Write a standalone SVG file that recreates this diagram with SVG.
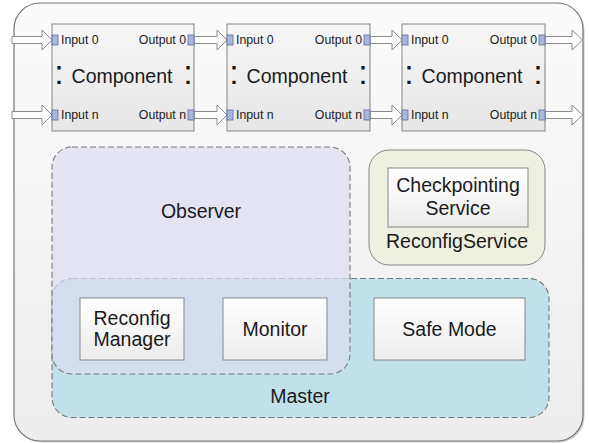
<svg xmlns="http://www.w3.org/2000/svg" width="589" height="443" viewBox="0 0 589 443">
<defs>
<linearGradient id="gCont" x1="0" y1="0" x2="0" y2="1"><stop offset="0" stop-color="#fbfbfb"/><stop offset="1" stop-color="#ededed"/></linearGradient>
<linearGradient id="gComp" x1="0" y1="0" x2="0" y2="1"><stop offset="0" stop-color="#f7f7f7"/><stop offset="1" stop-color="#e6e6e6"/></linearGradient>
<linearGradient id="gBox" x1="0" y1="0" x2="0" y2="1"><stop offset="0" stop-color="#ffffff"/><stop offset="1" stop-color="#ececec"/></linearGradient>
<style>
text{font-family:"Liberation Sans",Arial,sans-serif;fill:#1a1a1a}
.big{font-size:19.5px;text-anchor:middle}
.port-l{font-size:12.3px}
.port-r{font-size:12.3px;text-anchor:end}
.colon{font-size:34px;text-anchor:middle}
.comp{fill:url(#gComp);stroke:#858585;stroke-width:1}
.port{fill:#a9b6dc;stroke:#5f6e9c;stroke-width:0.8}
.box{fill:url(#gBox);stroke:#858585;stroke-width:1}
.arrow{fill:#ffffff;stroke:#8c8c8c;stroke-width:1;stroke-linejoin:miter}
.dash{stroke:#7a7a7a;stroke-width:1.1;stroke-dasharray:6 3}
</style>
</defs>
<g id="container">
<rect x="15.5" y="4.5" width="569" height="438" rx="26" fill="#9a9a9a" opacity="0.5"/>
<rect x="14" y="3" width="569" height="438" rx="26" fill="url(#gCont)" stroke="#767676" stroke-width="1.2"/>
</g>
<g id="connectors">
<polygon class="arrow" points="12,36.5 42,36.5 42,30 52,40 42,50 42,43.5 12,43.5"/>
<polygon class="arrow" points="12,111.5 42,111.5 42,105 52,115 42,125 42,118.5 12,118.5"/>
<polygon class="arrow" points="194,36.5 217,36.5 217,30 227,40 217,50 217,43.5 194,43.5"/>
<polygon class="arrow" points="194,111.5 217,111.5 217,105 227,115 217,125 217,118.5 194,118.5"/>
<polygon class="arrow" points="370,36.5 392,36.5 392,30 402,40 392,50 392,43.5 370,43.5"/>
<polygon class="arrow" points="370,111.5 392,111.5 392,105 402,115 392,125 392,118.5 370,118.5"/>
<polygon class="arrow" points="545,36.5 572,36.5 572,30 582.5,40 572,50 572,43.5 545,43.5"/>
<polygon class="arrow" points="545,111.5 572,111.5 572,105 582.5,115 572,125 572,118.5 545,118.5"/>
</g>
<g id="component1">
<rect class="comp" x="52" y="24" width="142" height="107"/>
<rect class="port" x="52" y="35" width="6" height="10"/>
<rect class="port" x="52" y="110" width="6" height="10"/>
<rect class="port" x="188" y="35" width="6" height="10"/>
<rect class="port" x="188" y="110" width="6" height="10"/>
<text class="port-l" x="61" y="44">Input 0</text>
<text class="port-l" x="61" y="119">Input n</text>
<text class="port-r" x="186" y="44">Output 0</text>
<text class="port-r" x="186" y="119">Output n</text>
<text class="colon" x="59" y="84">:</text>
<text class="colon" x="188" y="84">:</text>
<text class="big" x="122" y="83">Component</text>
</g>
<g id="component2">
<rect class="comp" x="227" y="24" width="143" height="107"/>
<rect class="port" x="227" y="35" width="6" height="10"/>
<rect class="port" x="227" y="110" width="6" height="10"/>
<rect class="port" x="364" y="35" width="6" height="10"/>
<rect class="port" x="364" y="110" width="6" height="10"/>
<text class="port-l" x="236" y="44">Input 0</text>
<text class="port-l" x="236" y="119">Input n</text>
<text class="port-r" x="362" y="44">Output 0</text>
<text class="port-r" x="362" y="119">Output n</text>
<text class="colon" x="234" y="84">:</text>
<text class="colon" x="363" y="84">:</text>
<text class="big" x="297" y="83">Component</text>
</g>
<g id="component3">
<rect class="comp" x="402" y="24" width="143" height="107"/>
<rect class="port" x="402" y="35" width="6" height="10"/>
<rect class="port" x="402" y="110" width="6" height="10"/>
<rect class="port" x="539" y="35" width="6" height="10"/>
<rect class="port" x="539" y="110" width="6" height="10"/>
<text class="port-l" x="411" y="44">Input 0</text>
<text class="port-l" x="411" y="119">Input n</text>
<text class="port-r" x="537" y="44">Output 0</text>
<text class="port-r" x="537" y="119">Output n</text>
<text class="colon" x="409" y="84">:</text>
<text class="colon" x="538" y="84">:</text>
<text class="big" x="472" y="83">Component</text>
</g>
<g id="master">
<rect class="dash" x="52" y="278.5" width="497" height="139" rx="20" fill="#c0e1ea"/>
<text class="big" x="300" y="403">Master</text>
</g>
<g id="observer">
<rect x="52" y="147" width="298" height="227" rx="20" fill="#dcddf1" fill-opacity="0.72" stroke="none"/>
<rect class="dash" x="52" y="147" width="298" height="227" rx="20" fill="none"/>
<text class="big" x="201" y="218">Observer</text>
</g>
<g id="reconfigService">
<rect x="369" y="150" width="176" height="115" rx="20" fill="#eef0e2" stroke="#858585" stroke-width="1"/>
<text class="big" x="457" y="248">ReconfigService</text>
</g>
<g id="checkpointingService">
<rect class="box" x="388" y="168" width="140" height="59"/>
<text class="big" x="458" y="192">Checkpointing</text>
<text class="big" x="458" y="215">Service</text>
</g>
<g id="reconfigManager">
<rect class="box" x="80" y="298" width="104" height="62"/>
<text class="big" x="132" y="325">Reconfig</text>
<text class="big" x="132" y="346">Manager</text>
</g>
<g id="monitor">
<rect class="box" x="223" y="298" width="104" height="62"/>
<text class="big" x="275" y="336">Monitor</text>
</g>
<g id="safeMode">
<rect class="box" x="374" y="298" width="151" height="62"/>
<text class="big" x="449.5" y="336">Safe Mode</text>
</g>
</svg>
